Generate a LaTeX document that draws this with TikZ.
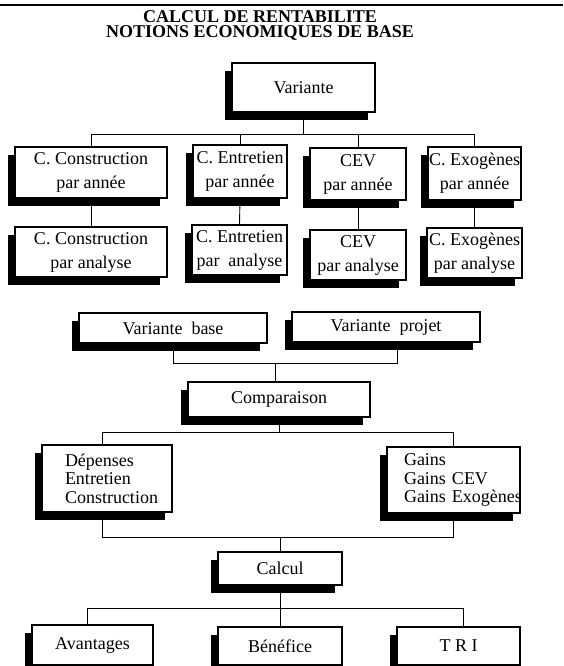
\documentclass[tikz,border=0pt]{standalone}
\usepackage{fontspec}
\setmainfont{Liberation Serif}
\usetikzlibrary{shadows}

\begin{document}
\begin{tikzpicture}[x=1pt,y=-1pt,
    box/.style={draw, line width=1.2pt, fill=white, inner sep=0pt, align=center,
      font=\fontsize{18}{24}\selectfont,
      drop shadow={shadow xshift=-7pt, shadow yshift=-8pt, opacity=1, fill=black}},
    listbox/.style={box, align=left, font=\fontsize{18}{18.5}\selectfont},
    title/.style={anchor=north, inner sep=0pt, align=center,
      font=\fontsize{18}{15}\selectfont\bfseries},
    link/.style={draw, line width=0.9pt}]

      \useasboundingbox (0,0) rectangle (563,666);
      \clip (0,0) rectangle (563,666);
      \draw[line width=1.6pt] (0,5) -- (563,5);

      % titre
      \node[title] (titre) at (260,10) {CALCUL DE RENTABILITE\\NOTIONS ECONOMIQUES DE BASE};

      \begin{scope}[every node/.style={box}]
        \node[minimum width=143pt, minimum height=49pt] (var)   at (303.5,87.5) {Variante};
        \node[minimum width=152pt, minimum height=51pt] (cons1) at (91,172.5)   {C. Construction\\par année};
        \node[minimum width=94pt,  minimum height=53pt] (ent1)  at (240,171.5)  {C. Entretien\\par année};
        \node[minimum width=96pt,  minimum height=52pt] (cev1)  at (358,174)    {CEV\\par année};
        \node[minimum width=93pt,  minimum height=53pt] (exo1)  at (474.5,173.5){C. Exogènes\\par année};
        \node[minimum width=152pt, minimum height=50pt] (cons2) at (91,252)     {C. Construction\\par analyse};
        \node[minimum width=95pt,  minimum height=50pt] (ent2)  at (239.5,250)  {C. Entretien\\par~~analyse};
        \node[minimum width=96pt,  minimum height=50pt] (cev2)  at (358,255)    {CEV\\par analyse};
        \node[minimum width=95pt,  minimum height=50pt] (exo2)  at (474.5,253)  {C. Exogènes\\par analyse};
        \node[minimum width=188pt, minimum height=30pt] (vbase) at (173,328)    {Variante~~base};
        \node[minimum width=188pt, minimum height=30pt] (vproj) at (386,327)    {Variante~~projet};
        \node[minimum width=182pt, minimum height=35pt] (comp)  at (279,399.5)  {Comparaison};
        \node[listbox, minimum width=130pt, minimum height=67pt, inner xsep=23pt,
              text width=84pt] (dep) at (107,478.5) {Dépenses\\Entretien\\\mbox{Construction}};
        \node[listbox, minimum width=133pt, minimum height=66pt, inner xsep=17pt,
              text width=99pt] (gains) at (453.5,480) {Gains\\Gains CEV\\\mbox{Gains Exogènes}};
        \node[minimum width=124pt, minimum height=33pt] (calc)  at (280,568.5)  {Calcul};
        \node[minimum width=121pt, minimum height=40pt] (avant) at (92.5,645)   {Avantages};
        \node[minimum width=124pt, minimum height=38pt] (bene)  at (280,646)    {Bénéfice};
        \node[minimum width=123pt, minimum height=38pt] (tri)   at (458.5,646)  {T R I};
      \end{scope}

      \coordinate (bus1) at (0,134);
      \coordinate (bus3) at (0,363);
      \coordinate (bus4) at (0,432);
      \coordinate (bus5) at (0,537);
      \coordinate (bus6) at (0,608);

      \begin{scope}[every path/.style={link}]
        \path (var.south) -- (var.south |- bus1);
        \path (cons1.north) -- (cons1.north |- bus1) -- (exo1.north |- bus1) -- (exo1.north);
        \path (ent1.north) -- (ent1.north |- bus1);
        \path (cev1.north) -- (cev1.north |- bus1);
        \path (cons1.south) -- (cons2.north);
        \path (ent1.south) -- (ent2.north);
        \path (cev1.south) -- (cev2.north);
        \path (exo1.south) -- (exo2.north);
        \path (vbase.south) |- ([xshift=11pt]vproj.south |- bus3) -- ([xshift=11pt]vproj.south);
        \path ([xshift=-4pt]comp.north) -- ([xshift=-4pt]comp.north |- bus3);
        \path (comp.south) -- (comp.south |- bus4);
        \path ([xshift=-5pt]dep.north) |- (gains.north |- bus4) -- (gains.north);
        \path ([xshift=-5pt]dep.south) |- (gains.south |- bus5) -- (gains.south);
        \path (calc.north) -- (calc.north |- bus5);
        \path (calc.south) -- (bene.north);
        \path ([xshift=-5pt]avant.north) |- ([xshift=5pt]tri.north |- bus6) -- ([xshift=5pt]tri.north);
      \end{scope}

    \end{tikzpicture}
\end{document}
